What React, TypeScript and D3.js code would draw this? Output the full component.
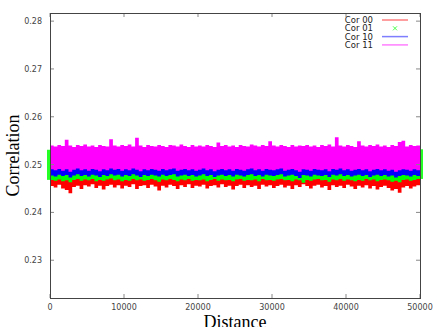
import * as d3 from 'd3';
import React, { useEffect } from 'react';

// Bin width along the distance axis (each value below is the envelope of one bin)
const binWidth = 500;

// Cor 00 (red) - lower / upper envelope per bin
const cor00Lo = [
  0.2455, 0.2452, 0.2458, 0.2450, 0.2447, 0.2440, 0.2453, 0.2456, 0.2449, 0.2457,
  0.2454, 0.2459, 0.2451, 0.2456, 0.2448, 0.2455, 0.2458, 0.2452, 0.2457, 0.2450,
  0.2456, 0.2453, 0.2459, 0.2449, 0.2455, 0.2457, 0.2451, 0.2458, 0.2454, 0.2446,
  0.2456, 0.2452, 0.2458, 0.2455, 0.2449, 0.2457, 0.2453, 0.2459, 0.2451, 0.2456,
  0.2454, 0.2458, 0.2450, 0.2455, 0.2457, 0.2452, 0.2459, 0.2453, 0.2456, 0.2448,
  0.2455, 0.2458, 0.2451, 0.2457, 0.2453, 0.2456, 0.2449, 0.2458, 0.2454, 0.2457,
  0.2451, 0.2455, 0.2458, 0.2452, 0.2456, 0.2449, 0.2457, 0.2453, 0.2459, 0.2455,
  0.2450, 0.2456, 0.2458, 0.2452, 0.2455, 0.2447, 0.2457, 0.2453, 0.2456, 0.2451,
  0.2458, 0.2454, 0.2449, 0.2456, 0.2452, 0.2457, 0.2450, 0.2455, 0.2448, 0.2453,
  0.2456, 0.2451, 0.2446, 0.2449, 0.2441, 0.2452, 0.2455, 0.2450, 0.2454, 0.2457,
];
const cor00Hi = [
  0.2526, 0.2524, 0.2527, 0.2525, 0.2523, 0.2526, 0.2528, 0.2524, 0.2525, 0.2527,
  0.2523, 0.2526, 0.2524, 0.2527, 0.2525, 0.2522, 0.2526, 0.2528, 0.2524, 0.2525,
  0.2527, 0.2523, 0.2526, 0.2524, 0.2525, 0.2527, 0.2524, 0.2526, 0.2523, 0.2525,
  0.2528, 0.2524, 0.2526, 0.2525, 0.2523, 0.2527, 0.2524, 0.2526, 0.2525, 0.2522,
  0.2526, 0.2524, 0.2527, 0.2525, 0.2523, 0.2526, 0.2528, 0.2524, 0.2525, 0.2527,
  0.2523, 0.2526, 0.2524, 0.2527, 0.2525, 0.2522, 0.2526, 0.2528, 0.2524, 0.2525,
  0.2527, 0.2523, 0.2526, 0.2524, 0.2525, 0.2527, 0.2524, 0.2526, 0.2523, 0.2525,
  0.2528, 0.2524, 0.2526, 0.2525, 0.2523, 0.2527, 0.2524, 0.2526, 0.2525, 0.2522,
  0.2526, 0.2524, 0.2527, 0.2525, 0.2523, 0.2526, 0.2528, 0.2524, 0.2525, 0.2527,
  0.2523, 0.2526, 0.2524, 0.2527, 0.2525, 0.2522, 0.2526, 0.2528, 0.2524, 0.2525,
];

// Cor 01 (green)
const cor01Lo = [
  0.2468, 0.2466, 0.2469, 0.2465, 0.2467, 0.2463, 0.2468, 0.2470, 0.2466, 0.2469,
  0.2467, 0.2470, 0.2465, 0.2468, 0.2466, 0.2469, 0.2471, 0.2467, 0.2469, 0.2465,
  0.2468, 0.2466, 0.2470, 0.2467, 0.2469, 0.2466, 0.2468, 0.2470, 0.2467, 0.2464,
  0.2469, 0.2467, 0.2470, 0.2468, 0.2465, 0.2469, 0.2467, 0.2470, 0.2466, 0.2468,
  0.2467, 0.2469, 0.2465, 0.2468, 0.2470, 0.2466, 0.2469, 0.2467, 0.2468, 0.2465,
  0.2469, 0.2470, 0.2466, 0.2468, 0.2467, 0.2469, 0.2465, 0.2470, 0.2467, 0.2468,
  0.2466, 0.2469, 0.2470, 0.2467, 0.2468, 0.2465, 0.2469, 0.2467, 0.2462, 0.2468,
  0.2466, 0.2469, 0.2470, 0.2467, 0.2468, 0.2464, 0.2469, 0.2467, 0.2470, 0.2466,
  0.2469, 0.2467, 0.2465, 0.2468, 0.2466, 0.2470, 0.2467, 0.2469, 0.2465, 0.2468,
  0.2469, 0.2467, 0.2464, 0.2466, 0.2463, 0.2468, 0.2469, 0.2466, 0.2468, 0.2470,
];
const cor01Hi = [
  0.2531, 0.2533, 0.2530, 0.2532, 0.2534, 0.2531, 0.2529, 0.2533, 0.2532, 0.2530,
  0.2534, 0.2531, 0.2533, 0.2530, 0.2532, 0.2535, 0.2531, 0.2529, 0.2533, 0.2532,
  0.2530, 0.2534, 0.2531, 0.2533, 0.2532, 0.2530, 0.2533, 0.2531, 0.2534, 0.2532,
  0.2529, 0.2533, 0.2531, 0.2532, 0.2534, 0.2530, 0.2533, 0.2531, 0.2532, 0.2535,
  0.2531, 0.2533, 0.2530, 0.2532, 0.2534, 0.2531, 0.2529, 0.2533, 0.2532, 0.2530,
  0.2534, 0.2531, 0.2533, 0.2530, 0.2532, 0.2535, 0.2531, 0.2529, 0.2533, 0.2532,
  0.2530, 0.2534, 0.2531, 0.2533, 0.2532, 0.2530, 0.2533, 0.2531, 0.2534, 0.2532,
  0.2529, 0.2533, 0.2531, 0.2532, 0.2534, 0.2530, 0.2533, 0.2531, 0.2532, 0.2535,
  0.2531, 0.2533, 0.2530, 0.2532, 0.2534, 0.2531, 0.2529, 0.2533, 0.2532, 0.2530,
  0.2534, 0.2531, 0.2533, 0.2530, 0.2532, 0.2535, 0.2531, 0.2529, 0.2533, 0.2532,
];

// Cor 10 (blue)
const cor10Lo = [
  0.2477, 0.2475, 0.2479, 0.2476, 0.2478, 0.2473, 0.2477, 0.2480, 0.2476, 0.2478,
  0.2475, 0.2479, 0.2477, 0.2474, 0.2478, 0.2476, 0.2480, 0.2477, 0.2479, 0.2475,
  0.2478, 0.2476, 0.2480, 0.2477, 0.2474, 0.2478, 0.2476, 0.2479, 0.2477, 0.2475,
  0.2479, 0.2476, 0.2478, 0.2480, 0.2475, 0.2477, 0.2479, 0.2476, 0.2478, 0.2475,
  0.2477, 0.2480, 0.2476, 0.2478, 0.2474, 0.2477, 0.2479, 0.2476, 0.2478, 0.2475,
  0.2479, 0.2477, 0.2475, 0.2478, 0.2480, 0.2476, 0.2478, 0.2475, 0.2479, 0.2477,
  0.2476, 0.2478, 0.2480, 0.2475, 0.2477, 0.2479, 0.2476, 0.2472, 0.2478, 0.2477,
  0.2475, 0.2479, 0.2477, 0.2476, 0.2478, 0.2474, 0.2479, 0.2477, 0.2480, 0.2476,
  0.2478, 0.2475, 0.2477, 0.2479, 0.2476, 0.2478, 0.2474, 0.2477, 0.2479, 0.2476,
  0.2478, 0.2475, 0.2477, 0.2473, 0.2476, 0.2478, 0.2477, 0.2475, 0.2478, 0.2476,
];
const cor10Hi = [
  0.2528, 0.2530, 0.2527, 0.2529, 0.2531, 0.2528, 0.2526, 0.2530, 0.2529, 0.2527,
  0.2531, 0.2528, 0.2530, 0.2527, 0.2529, 0.2532, 0.2528, 0.2526, 0.2530, 0.2529,
  0.2527, 0.2531, 0.2528, 0.2530, 0.2529, 0.2527, 0.2530, 0.2528, 0.2531, 0.2529,
  0.2526, 0.2530, 0.2528, 0.2529, 0.2531, 0.2527, 0.2530, 0.2528, 0.2529, 0.2532,
  0.2528, 0.2530, 0.2527, 0.2529, 0.2531, 0.2528, 0.2526, 0.2530, 0.2529, 0.2527,
  0.2531, 0.2528, 0.2530, 0.2527, 0.2529, 0.2532, 0.2528, 0.2526, 0.2530, 0.2529,
  0.2527, 0.2531, 0.2528, 0.2530, 0.2529, 0.2527, 0.2530, 0.2528, 0.2531, 0.2529,
  0.2526, 0.2530, 0.2528, 0.2529, 0.2531, 0.2527, 0.2530, 0.2528, 0.2529, 0.2532,
  0.2528, 0.2530, 0.2527, 0.2529, 0.2531, 0.2528, 0.2526, 0.2530, 0.2529, 0.2527,
  0.2531, 0.2528, 0.2530, 0.2527, 0.2529, 0.2532, 0.2528, 0.2526, 0.2530, 0.2529,
];

// Cor 11 (magenta)
const cor11Lo = [
  0.2490, 0.2488, 0.2491, 0.2487, 0.2490, 0.2485, 0.2489, 0.2492, 0.2488, 0.2490,
  0.2487, 0.2491, 0.2489, 0.2486, 0.2490, 0.2488, 0.2492, 0.2489, 0.2491, 0.2487,
  0.2490, 0.2488, 0.2492, 0.2489, 0.2486, 0.2490, 0.2488, 0.2491, 0.2489, 0.2487,
  0.2491, 0.2488, 0.2490, 0.2492, 0.2487, 0.2489, 0.2491, 0.2488, 0.2490, 0.2487,
  0.2489, 0.2492, 0.2488, 0.2490, 0.2486, 0.2489, 0.2491, 0.2488, 0.2490, 0.2487,
  0.2491, 0.2489, 0.2487, 0.2490, 0.2492, 0.2488, 0.2490, 0.2487, 0.2491, 0.2489,
  0.2488, 0.2490, 0.2492, 0.2487, 0.2489, 0.2491, 0.2488, 0.2485, 0.2490, 0.2489,
  0.2487, 0.2491, 0.2489, 0.2488, 0.2490, 0.2486, 0.2491, 0.2489, 0.2492, 0.2488,
  0.2490, 0.2487, 0.2489, 0.2491, 0.2488, 0.2490, 0.2486, 0.2489, 0.2491, 0.2488,
  0.2490, 0.2487, 0.2489, 0.2485, 0.2488, 0.2490, 0.2489, 0.2487, 0.2490, 0.2488,
];
const cor11Hi = [
  0.2540, 0.2538, 0.2541, 0.2539, 0.2552, 0.2540, 0.2537, 0.2541, 0.2539, 0.2542,
  0.2538, 0.2540, 0.2537, 0.2541, 0.2539, 0.2538, 0.2553, 0.2540, 0.2538, 0.2541,
  0.2539, 0.2542, 0.2538, 0.2556, 0.2540, 0.2537, 0.2541, 0.2539, 0.2538, 0.2541,
  0.2539, 0.2537, 0.2541, 0.2540, 0.2538, 0.2542, 0.2539, 0.2537, 0.2541, 0.2538,
  0.2540, 0.2538, 0.2541, 0.2539, 0.2537, 0.2546, 0.2539, 0.2541, 0.2538, 0.2540,
  0.2537, 0.2541, 0.2539, 0.2538, 0.2542, 0.2540, 0.2538, 0.2541, 0.2539, 0.2549,
  0.2540, 0.2538, 0.2541, 0.2539, 0.2537, 0.2541, 0.2538, 0.2540, 0.2539, 0.2541,
  0.2538, 0.2540, 0.2537, 0.2541, 0.2539, 0.2542, 0.2538, 0.2557, 0.2540, 0.2538,
  0.2541, 0.2539, 0.2537, 0.2549, 0.2540, 0.2538, 0.2541, 0.2539, 0.2542, 0.2538,
  0.2540, 0.2537, 0.2541, 0.2539, 0.2547, 0.2550, 0.2538, 0.2541, 0.2539, 0.2540,
];

const seriesNames = ['Cor 00', 'Cor 01', 'Cor 10', 'Cor 11'];
const seriesColors = ['#ff0000', '#00ff00', '#0000ff', '#ff00ff'];
const seriesLo = [cor00Lo, cor01Lo, cor10Lo, cor11Lo];
const seriesHi = [cor00Hi, cor01Hi, cor10Hi, cor11Hi];

const xTicks = [0, 10000, 20000, 30000, 40000, 50000];
const yTicks = [0.23, 0.24, 0.25, 0.26, 0.27, 0.28];

const W = 436;
const H = 327;
const margin = { top: 13, right: 16, bottom: 29, left: 50 };

const App = () => {
  useEffect(() => {
    document.body.style.margin = '0';
  }, []);

  const x = d3.scaleLinear().domain([0, 50000]).range([margin.left, W - margin.right]);
  const y = d3.scaleLinear().domain([0.2221, 0.2817]).range([H - margin.bottom, margin.top]);

  const [x0, x1] = x.range();
  const [yb, yt] = y.range();

  // band per series, drawn as a stepped envelope
  const area = d3.area<[number, number, number]>()
    .x(d => x(d[0]))
    .y0(d => y(d[1]))
    .y1(d => y(d[2]))
    .curve(d3.curveStepAfter);

  const bands = seriesLo.map((lo, s) => {
    const hi = seriesHi[s];
    const pts: [number, number, number][] = lo.map((v, i) => [i * binWidth, v, hi[i]]);
    pts.push([lo.length * binWidth, lo[lo.length - 1], hi[hi.length - 1]]);
    return pts;
  });

  const tickColor = '#888';
  const borderColor = '#444';
  const labelFont = 'DejaVu Sans, sans-serif';

  const legendY = (i: number) => 20 + i * 8.3;

  return (
    <svg width={W} height={H} style={{ display: 'block', background: '#fff' }}>
      <defs>
        <clipPath id="plot">
          <rect x={x0} y={yt} width={x1 - x0} height={yb - yt} />
        </clipPath>
      </defs>

      {/* green points spill over the left / right border */}
      {[0, cor01Lo.length - 1].map(i => (
        <rect key={'g' + i}
          x={x(i === 0 ? 0 : 50000) - 3} width={6}
          y={y(cor01Hi[i])} height={y(cor01Lo[i]) - y(cor01Hi[i])}
          fill={seriesColors[1]} opacity={0.85} />
      ))}

      <g clipPath="url(#plot)">
        {bands.map((pts, s) => (
          <path key={s} d={area(pts) || ''} fill={seriesColors[s]} />
        ))}
      </g>

      {/* ticks, mirrored gnuplot style */}
      {xTicks.map(t => (
        <g key={'xt' + t}>
          <line x1={x(t)} x2={x(t)} y1={yb} y2={yb - 4} stroke={tickColor} />
          <line x1={x(t)} x2={x(t)} y1={yt} y2={yt + 4} stroke={tickColor} />
          <text x={x(t)} y={yb + 12} textAnchor="middle" fontSize={8}
            fontFamily={labelFont} fill="#444">{t}</text>
        </g>
      ))}
      {yTicks.map(t => (
        <g key={'yt' + t}>
          <line x1={x0} x2={x0 + 4} y1={y(t)} y2={y(t)} stroke={tickColor} />
          <line x1={x1} x2={x1 - 4} y1={y(t)} y2={y(t)} stroke={tickColor} />
          <text x={x0 - 8} y={y(t) + 3} textAnchor="end" fontSize={8}
            fontFamily={labelFont} fill="#444">{t.toFixed(2)}</text>
        </g>
      ))}

      <rect x={x0} y={yt} width={x1 - x0} height={yb - yt}
        fill="none" stroke={borderColor} strokeWidth={1} shapeRendering="crispEdges" />

      {/* axis titles */}
      <text x={(x0 + x1) / 2} y={H + 1} textAnchor="middle" fontSize={18}
        fontFamily="Liberation Serif, serif" fill="#000">Distance</text>
      <text transform={`translate(19, ${(yb + yt) / 2}) rotate(-90)`} textAnchor="middle"
        fontSize={18} fontFamily="Liberation Serif, serif" fill="#000">Correlation</text>

      {/* legend */}
      {seriesNames.map((name, i) => (
        <g key={name}>
          <text x={373} y={legendY(i) + 3} textAnchor="end" fontSize={8.5}
            fontFamily={labelFont} fill="#222">{name}</text>
          {i === 1 ? (
            <g stroke={seriesColors[i]} strokeWidth={1} opacity={0.7}>
              <line x1={393} x2={397} y1={legendY(i) - 2} y2={legendY(i) + 2} />
              <line x1={393} x2={397} y1={legendY(i) + 2} y2={legendY(i) - 2} />
            </g>
          ) : (
            <line x1={382} x2={408} y1={legendY(i)} y2={legendY(i)}
              stroke={seriesColors[i]} strokeWidth={1.5} opacity={0.5} />
          )}
        </g>
      ))}
    </svg>
  );
};

export default App;
